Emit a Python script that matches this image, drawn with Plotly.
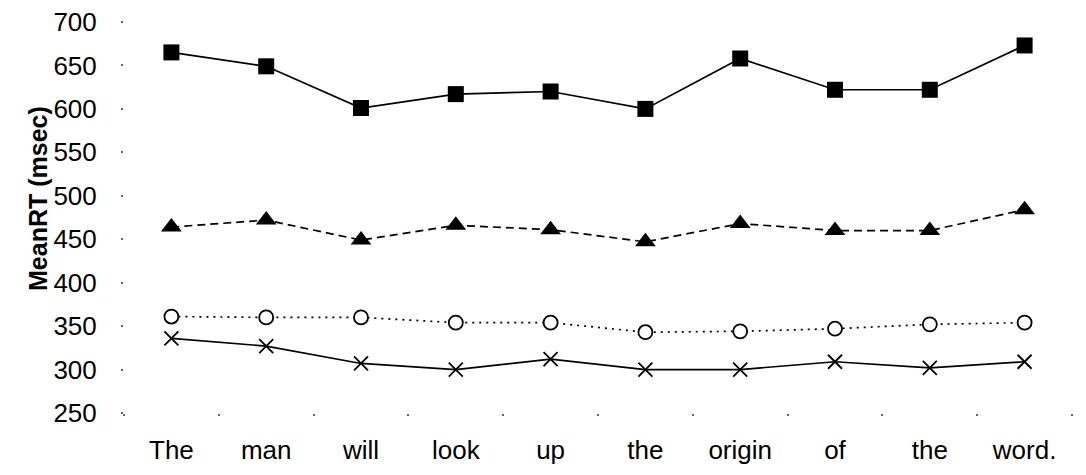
import plotly.graph_objects as go

words = ["The", "man", "will", "look", "up", "the", "origin", "of", "the", "word."]
xpos = list(range(len(words)))
squares = [665, 649, 601, 617, 620, 600, 658, 622, 622, 673]
triangles = [464, 472, 449, 466, 461, 447, 468, 460, 460, 484]
circles = [361, 360, 360, 354, 354, 343, 344, 347, 352, 354]
crosses = [336, 327, 307, 300, 312, 300, 300, 309, 302, 309]
yticks = [250, 300, 350, 400, 450, 500, 550, 600, 650, 700]

fig = go.Figure()
fig.add_trace(go.Scatter(x=xpos, y=squares, mode="lines+markers",
                         line=dict(color="black", width=1.7),
                         marker=dict(symbol="square", size=16, color="black"),
                         cliponaxis=False))
fig.add_trace(go.Scatter(x=xpos, y=triangles, mode="lines+markers",
                         line=dict(color="black", width=1.7, dash="8px,5px"),
                         marker=dict(symbol="triangle-up", size=18, color="black"),
                         cliponaxis=False))
fig.add_trace(go.Scatter(x=xpos, y=circles, mode="lines+markers",
                         line=dict(color="black", width=1.7, dash="2px,5px"),
                         marker=dict(symbol="circle", size=14, color="white",
                                     line=dict(color="black", width=1.8)),
                         cliponaxis=False))
fig.add_trace(go.Scatter(x=xpos, y=crosses, mode="lines+markers",
                         line=dict(color="black", width=1.7),
                         marker=dict(symbol="x-thin", size=14, color="black",
                                     line=dict(color="black", width=1.8)),
                         cliponaxis=False))

fig.update_layout(
    width=1086, height=475,
    margin=dict(l=124, r=14, t=22, b=62, autoexpand=False),
    paper_bgcolor="white", plot_bgcolor="white",
    showlegend=False,
    font=dict(family="Liberation Sans, Arial", size=26, color="black"),
    xaxis=dict(type="category", range=[-0.5, 9.5], tickvals=xpos, ticktext=words,
               showgrid=False, zeroline=False, showline=False, automargin=False,
               ticks="outside", ticklen=2, tickwidth=2, tickcolor="#666",
               tickson="boundaries", ticklabelstandoff=19,
               tickfont=dict(size=26)),
    yaxis=dict(range=[250, 700], tickvals=yticks, automargin=False,
               showgrid=False, zeroline=False, showline=False,
               ticks="outside", ticklen=2, tickwidth=2, tickcolor="#666",
               ticklabelstandoff=19, tickfont=dict(size=26)),
    annotations=[dict(text="<b>MeanRT (msec)</b>", textangle=-90,
                      xref="paper", yref="paper",
                      x=(38 - 124) / 948, y=(413 - 199) / 391,
                      xanchor="center", yanchor="middle", showarrow=False,
                      font=dict(size=25, family="Liberation Sans, Arial"))],
)

fig.write_html("out.html", config={"displayModeBar": False},
               post_script="document.body.style.margin='0';document.body.style.overflow='hidden';")
